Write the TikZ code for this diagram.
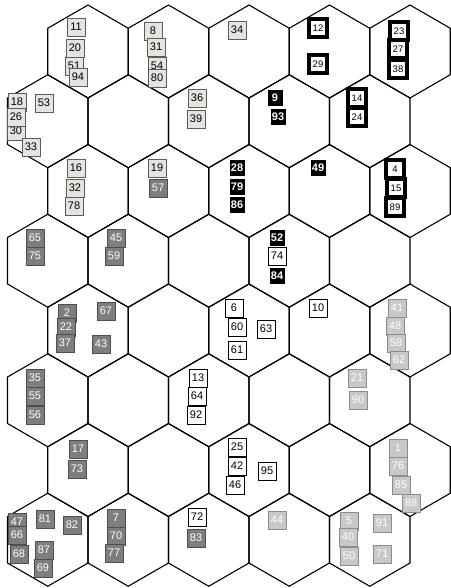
\documentclass[tikz,border=0pt]{standalone}
\usepackage{fontspec}
\setmainfont{Liberation Sans}
\definecolor{ltfill}{HTML}{E4E4E2}
\definecolor{ltdraw}{HTML}{5C5C52}
\definecolor{dkfill}{HTML}{7E7E7E}
\definecolor{dkdraw}{HTML}{4E4E4E}
\definecolor{lgfill}{HTML}{C8C8C8}
\definecolor{lgdraw}{HTML}{8C8C8C}
\tikzset{
  hexline/.style={draw=black, line width=1.1pt},
  box/.style={draw, minimum width=18pt, minimum height=18pt, inner sep=1pt, line width=0.8pt,
              font=\fontsize{11}{11}\selectfont},
  lt/.style={box, fill=ltfill, draw=ltdraw, text=black},
  dk/.style={box, fill=dkfill, draw=dkdraw, text=white},
  lg/.style={box, fill=lgfill, draw=lgdraw, text=white},
  wh/.style={box, fill=white, draw=black},
  th/.style={box, fill=white, draw=black, line width=3.6pt, font=\fontsize{9.5}{9.5}\selectfont},
  bk/.style={fill=black, text=white, minimum width=15pt, minimum height=16pt, inner sep=0.5pt,
             font=\bfseries\fontsize{11}{11}\selectfont},
}
\begin{document}
\begin{tikzpicture}[x=1pt,y=-1pt]
\useasboundingbox (0,0) rectangle (450,588);
\fill[white] (0,0) rectangle (450,588);
% hexagonal grid
\foreach \r in {0,...,7}{
  \pgfmathsetmacro\cy{51.5+69.75*\r}
  \pgfmathsetmacro\xo{88-40.25*mod(\r,2)}
  \foreach \k in {0,...,4}{
    \pgfmathsetmacro\cx{\xo+80.5*\k}
    \draw[hexline] (\cx,\cy) +(0,-46.5) -- +(40.25,-23.25) -- +(40.25,23.25) -- +(0,46.5)
       -- +(-40.25,23.25) -- +(-40.25,-23.25) -- cycle;
  }
}
% light boxes, dark text
\node[lt] (n11) at (76,27) {11};
\node[lt] (n20) at (75,48) {20};
\node[lt] (n51) at (74,66) {51};
\node[lt] (n94) at (78,77) {94};
\node[lt] (n8) at (153,31) {8};
\node[lt] (n31) at (156,47) {31};
\node[lt] (n54) at (157,66) {54};
\node[lt] (n80) at (157,78) {80};
\node[lt] (n34) at (237,30) {34};
\node[lt] (n18) at (17,102) {18};
\node[lt] (n53) at (44,103) {53};
\node[lt] (n30) at (16,131) {30};
\node[lt] (n26) at (16,117) {26};
\node[lt] (n33) at (31,147) {33};
\node[lt] (n36) at (197,98) {36};
\node[lt] (n39) at (196,119) {39};
\node[lt] (n16) at (76,168) {16};
\node[lt] (n32) at (75,188) {32};
\node[lt] (n78) at (74,206) {78};
\node[lt] (n19) at (157,168) {19};
% dark boxes
\node[dk] (n57) at (158,188) {57};
\node[dk] (n65) at (35,238) {65};
\node[dk] (n75) at (35,256) {75};
\node[dk] (n45) at (116,238) {45};
\node[dk] (n59) at (114,256) {59};
\node[dk] (n2) at (67,313) {2};
\node[dk] (n22) at (66,327) {22};
\node[dk] (n37) at (65,343) {37};
\node[dk] (n67) at (106,311) {67};
\node[dk] (n43) at (101,344) {43};
\node[dk] (n35) at (35,378) {35};
\node[dk] (n55) at (35,396) {55};
\node[dk] (n56) at (35,415) {56};
\node[dk] (n17) at (78,449) {17};
\node[dk] (n73) at (77,469) {73};
\node[dk] (n47) at (17,522) {47};
\node[dk] (n66) at (17,535) {66};
\node[dk] (n68) at (19,554) {68};
\node[dk] (n81) at (45,519) {81};
\node[dk] (n82) at (72,525) {82};
\node[dk] (n87) at (44,550) {87};
\node[dk] (n69) at (43,568) {69};
\node[dk] (n7) at (116,518) {7};
\node[dk] (n70) at (116,536) {70};
\node[dk] (n77) at (114,553) {77};
\node[dk] (n83) at (196,538) {83};
% thick-bordered boxes
\node[th] (n12) at (318,28) {12};
\node[th] (n29) at (318,64) {29};
\node[th] (n23) at (399,31) {23};
\node[th] (n27) at (398,49) {27};
\node[th] (n38) at (398,69) {38};
\node[th] (n14) at (357,98) {14};
\node[th] (n24) at (357,117) {24};
\node[th] (n4) at (395,169) {4};
\node[th] (n15) at (396,188) {15};
\node[th] (n89) at (395,207) {89};
% black boxes
\node[bk] (n9) at (275,98) {9};
\node[bk] (n93) at (278,117) {93};
\node[bk] (n28) at (237,168) {28};
\node[bk] (n79) at (237,187) {79};
\node[bk] (n86) at (237,205) {86};
\node[bk] (n49) at (318,168) {49};
\node[bk] (n52) at (277,238) {52};
\node[bk] (n84) at (277,276) {84};
% white boxes
\node[wh] (n74) at (277,256) {74};
\node[wh] (n6) at (234,308) {6};
\node[wh] (n60) at (237,327) {60};
\node[wh] (n61) at (237,350) {61};
\node[wh] (n63) at (266,329) {63};
\node[wh] (n10) at (318,308) {10};
\node[wh] (n13) at (198,378) {13};
\node[wh] (n64) at (197,396) {64};
\node[wh] (n92) at (196,415) {92};
\node[wh] (n25) at (237,447) {25};
\node[wh] (n42) at (237,466) {42};
\node[wh] (n46) at (235,485) {46};
\node[wh] (n95) at (267,471) {95};
\node[wh] (n72) at (197,517) {72};
% light grey boxes, white text
\node[lg] (n41) at (397,308) {41};
\node[lg] (n48) at (395,326) {48};
\node[lg] (n58) at (396,343) {58};
\node[lg] (n62) at (399,360) {62};
\node[lg] (n21) at (357,378) {21};
\node[lg] (n90) at (358,400) {90};
\node[lg] (n1) at (398,448) {1};
\node[lg] (n76) at (398,466) {76};
\node[lg] (n85) at (401,485) {85};
\node[lg] (n88) at (411,503) {88};
\node[lg] (n44) at (277,520) {44};
\node[lg] (n5) at (349,521) {5};
\node[lg] (n40) at (348,537) {40};
\node[lg] (n50) at (349,556) {50};
\node[lg] (n91) at (382,523) {91};
\node[lg] (n71) at (382,554) {71};
\end{tikzpicture}
\end{document}
